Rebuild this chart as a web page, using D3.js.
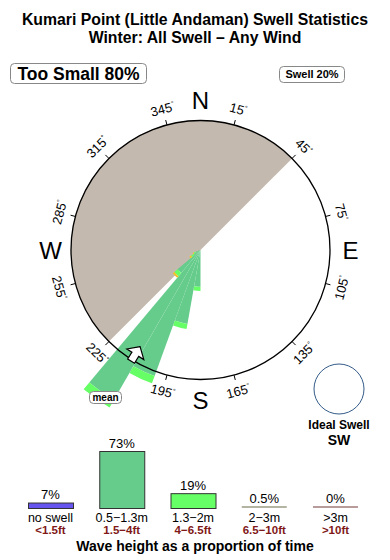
<!DOCTYPE html>
<html>
<head>
<title>Swell Statistics</title>
<script src="https://d3js.org/d3.v7.min.js"></script>
<style>
  body { margin: 0; background: #fff; }
  svg text { font-family: "Liberation Sans", Arial, Helvetica, sans-serif; }
</style>
</head>
<body>
<svg id="chart" width="390" height="560"></svg>
<script>
// ==== data ====
var titleLines = ["Kumari Point (Little Andaman) Swell Statistics", "Winter: All Swell \u2013 Any Wind"];
var tooSmallPct = 80;
var swellPct = 20;

// rose: direction bins (deg, 10 deg wide) and % of time per wave class
var directions = [185, 195, 205, 215, 225, 235, 245];
var pctSmall   = [7.1, 14.5, 25.9, 33.4, 5.8, 1.5, 1.0];   // 0.5-1.3m
var pctMid     = [0.8, 1.0, 1.5, 1.7, 0.8, 0.6, 0.4];      // 1.3-2m
var pctBig     = [0, 0, 0, 0, 0.4, 0.4, 0.2];              // 2-3m
var shadowFrom = 225, shadowTo = 405;   // sheltered sector
var meanDir = 212;
var idealSwell = "SW";

var tickDegs = [15, 45, 75, 105, 135, 165, 195, 225, 255, 285, 315, 345];
var cardinals = ["N", "E", "S", "W"];

// legend
var legendCats = ["no swell", "0.5\u22121.3m", "1.3\u22122m", "2\u22123m", ">3m"];
var legendFeet = ["<1.5ft", "1.5\u22124ft", "4\u22126.5ft", "6.5\u221210ft", ">10ft"];
var legendPct  = [7, 73, 19, 0.5, 0];
var legendLabels = ["7%", "73%", "19%", "0.5%", "0%"];

var classColors = ["#6655ee", "#66cc8c", "#66ff66", "#b4b4a2", "#b89c9c"];
var roseColors = ["#66cc8c", "#66ff66", "#f0c428"];

var svg = d3.select("#chart");
var cx = 200.5, cy = 250, R = 129.5;

// ==== titles ====
svg.selectAll(".title").data(titleLines).enter().append("text")
  .attr("x", 195).attr("y", function(d, i) { return 25 + i * 18; })
  .attr("text-anchor", "middle").attr("font-size", 15.8).attr("font-weight", "bold")
  .text(function(d) { return d; });

// boxed labels
function boxLabel(x, y, w, h, txt, size) {
  svg.append("rect").attr("x", x).attr("y", y).attr("width", w).attr("height", h)
    .attr("rx", 4).attr("fill", "#fff").attr("stroke", "#888").attr("stroke-width", 1);
  svg.append("text").attr("x", x + w / 2).attr("y", y + h / 2)
    .attr("dy", "0.36em").attr("text-anchor", "middle")
    .attr("font-size", size).attr("font-weight", "bold").text(txt);
}
boxLabel(10.5, 63.5, 136, 20, "Too Small " + tooSmallPct + "%", 17.5);
boxLabel(279.5, 66.5, 65, 16, "Swell " + swellPct + "%", 11);

// ==== rose ====
var rose = svg.append("g").attr("transform", "translate(" + cx + "," + cy + ")");
var rad = Math.PI / 180;

// radial scale: circle edge = 25% of time
var rScale = d3.scaleLinear().domain([0, 25]).range([0, R]);

rose.append("path")
  .attr("d", d3.arc()({ innerRadius: 0, outerRadius: R, startAngle: shadowFrom * rad, endAngle: shadowTo * rad }))
  .attr("fill", "#c4b9ae");

var arc = d3.arc();
var stacks = [pctSmall, pctMid, pctBig];
directions.forEach(function(dir, i) {
  var base = 0;
  stacks.forEach(function(s, k) {
    if (s[i] <= 0) return;
    rose.append("path")
      .attr("d", arc({ innerRadius: rScale(base), outerRadius: rScale(base + s[i]),
                       startAngle: (dir - 5) * rad, endAngle: (dir + 5) * rad }))
      .attr("fill", roseColors[k]);
    base += s[i];
  });
});

rose.append("circle").attr("r", R).attr("fill", "none")
  .attr("stroke", "#000").attr("stroke-width", 1.3);

// ticks + degree labels
rose.selectAll(".tick").data(tickDegs).enter().append("line")
  .attr("x1", function(d) { return R * Math.sin(d * rad); })
  .attr("y1", function(d) { return -R * Math.cos(d * rad); })
  .attr("x2", function(d) { return (R + 5) * Math.sin(d * rad); })
  .attr("y2", function(d) { return -(R + 5) * Math.cos(d * rad); })
  .attr("stroke", "#000").attr("stroke-width", 1);

var lab = rose.selectAll(".deg").data(tickDegs).enter().append("text")
  .attr("transform", function(d) {
    var x = 146 * Math.sin(d * rad), y = -146 * Math.cos(d * rad);
    var rot = (d > 90 && d < 270) ? d - 180 : (d > 270 ? d - 360 : d);
    return "translate(" + x + "," + y + ") rotate(" + rot + ")";
  })
  .attr("text-anchor", "middle").attr("dy", "0.36em").attr("font-size", 13);
lab.append("tspan").text(function(d) { return d; });
lab.append("tspan").attr("font-size", 7).attr("dy", -5).text("\u00b0");

rose.selectAll(".card").data(cardinals).enter().append("text")
  .attr("x", function(d, i) { return 150 * Math.sin(i * 90 * rad); })
  .attr("y", function(d, i) { return -150 * Math.cos(i * 90 * rad); })
  .attr("dy", "0.36em").attr("text-anchor", "middle").attr("font-size", 24)
  .text(function(d) { return d; });

// mean direction arrow (points to centre)
rose.append("path")
  .attr("transform", "rotate(" + meanDir + ")")
  .attr("d", "M0,-114 L10,-123 L4,-123 L4,-131 L-4,-131 L-4,-123 L-10,-123 Z")
  .attr("fill", "#fff").attr("stroke", "#000").attr("stroke-width", 1.2)
  .attr("stroke-linejoin", "miter");

boxLabel(89.5, 391.5, 32, 12, "mean", 10);

// ideal swell
svg.append("circle").attr("cx", 339).attr("cy", 389).attr("r", 25)
  .attr("fill", "#fff").attr("stroke", "#335b88").attr("stroke-width", 1);
svg.append("text").attr("x", 339).attr("y", 429).attr("text-anchor", "middle")
  .attr("font-size", 12).attr("font-weight", "bold").text("Ideal Swell");
svg.append("text").attr("x", 339).attr("y", 445).attr("text-anchor", "middle")
  .attr("font-size", 14).attr("font-weight", "bold").text(idealSwell);

// ==== legend bars ====
var xL = d3.scalePoint().domain(legendCats).range([50.5, 335.5]);
var hL = d3.scaleLinear().domain([0, 73]).range([0, 57]);
var baseY = 508, bw = 45;

var lg = svg.append("g");
legendCats.forEach(function(c, i) {
  var x = xL(c) - bw / 2;
  var h = hL(legendPct[i]);
  if (legendPct[i] >= 2) {
    lg.append("rect").attr("x", x + 0.5).attr("y", baseY - h + 0.5).attr("width", bw).attr("height", h)
      .attr("fill", classColors[i]).attr("stroke", "#333").attr("stroke-width", 1);
  } else {
    lg.append("rect").attr("x", x).attr("y", baseY - 2).attr("width", bw).attr("height", 2)
      .attr("fill", classColors[i]);
  }
  var top = legendPct[i] >= 2 ? baseY - h : baseY - 2;
  lg.append("text").attr("x", xL(c)).attr("y", top - 3.5).attr("text-anchor", "middle")
    .attr("font-size", 13).text(legendLabels[i]);
  lg.append("text").attr("x", xL(c)).attr("y", 522).attr("text-anchor", "middle")
    .attr("font-size", 12.5).text(c);
  lg.append("text").attr("x", xL(c)).attr("y", 534).attr("text-anchor", "middle")
    .attr("font-size", 11.5).attr("font-weight", "bold").attr("fill", "#801818").text(legendFeet[i]);
});

svg.append("text").attr("x", 195).attr("y", 551).attr("text-anchor", "middle")
  .attr("font-size", 14).attr("font-weight", "bold").text("Wave height as a proportion of time");
</script>
</body>
</html>
